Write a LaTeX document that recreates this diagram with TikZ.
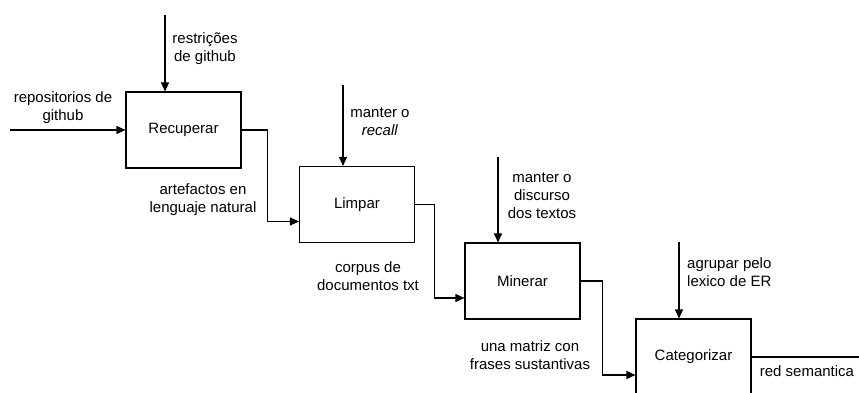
\documentclass[tikz,border=0pt]{standalone}
\usepackage{fontspec}
\setmainfont{Liberation Sans}
\usetikzlibrary{arrows.meta}
\begin{document}
\begin{tikzpicture}[x=1pt,y=-1pt,
 box/.style={draw, line width=1.1pt, minimum width=115pt, minimum height=76pt, inner sep=0pt, font=\fontsize{15}{18}\selectfont},
 lbl/.style={align=center, font=\fontsize{15}{18}\selectfont, inner sep=0pt},
 arr/.style={line width=1.1pt, -{Triangle[length=9pt,width=8pt]}},
 ln/.style={line width=1.1pt}]
\useasboundingbox (0,0) rectangle (859,393);
\clip (0,0) rectangle (859,393);
\node[box] (rec) at (183.5,130) {Recuperar};
\node[box] (lim) at (357,204.5) {Limpar};
\node[box] (min) at (522.5,281) {Minerar};
\node[box] (cat) at (693.5,357) {Categorizar};
% input
\coordinate (in) at (10,130);
\draw[arr] (in) -- (rec.west);
% controls
\coordinate (c1) at (165,15);
\coordinate (c2) at (343,85);
\coordinate (c3) at (498,157);
\coordinate (c4) at (679,242);
\draw[arr] (c1) -- (c1 |- rec.north);
\draw[arr] (c2) -- (c2 |- lim.north);
\draw[arr] (c3) -- (c3 |- min.north);
\draw[arr] (c4) -- (c4 |- cat.north);
% outputs
\draw[arr] (rec.east) -- ++(26,0) |- ([yshift=-17pt]lim.west);
\draw[arr] (lim.east) -- ++(19,0) |- ([yshift=-17pt]min.west);
\draw[arr] (min.east) -- ++(22,0) |- ([yshift=-18pt]cat.west);
\coordinate (out) at (870,357);
\draw[ln] (cat.east) -- (out);
% labels
\node[lbl] (lin) at (63,108) {repositorios de\\github};
\node[lbl] (lc1) at (205,49) {restrições\\de github};
\node[lbl] (lo1) at (203,200) {artefactos en\\lenguaje natural};
\node[lbl] (lc2) at (380,122) {manter o\\\textit{recall}};
\node[lbl] (lo2) at (368,276) {corpus de\\documentos txt};
\node[lbl] (lc3) at (542,196) {manter o\\discurso\\dos textos};
\node[lbl] (lo3) at (530,355) {una matriz con\\frases sustantivas};
\node[lbl, align=left, anchor=west] (lc4) at (687,272) {agrupar pelo\\lexico de ER};
\node[lbl] (lo4) at (807,371) {red semantica};
\end{tikzpicture}
\end{document}
